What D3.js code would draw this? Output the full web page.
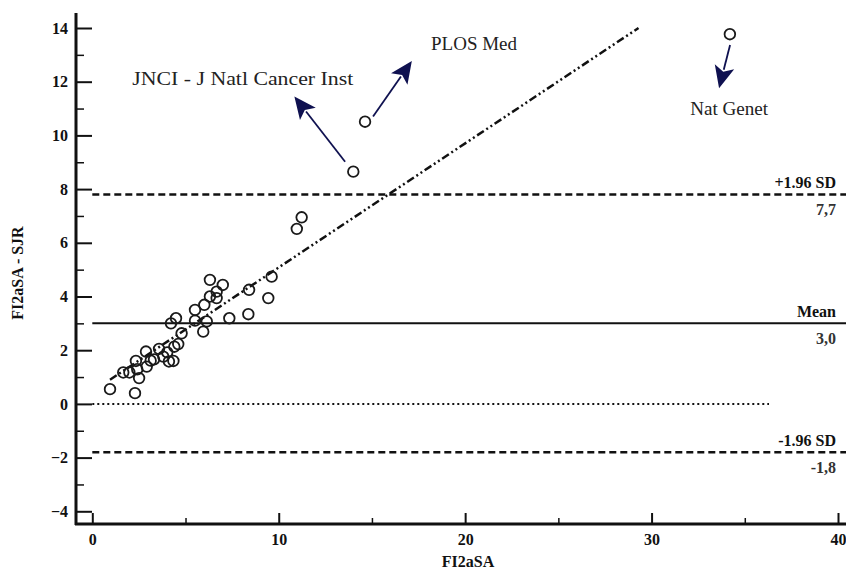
<!DOCTYPE html>
<html>
<head>
<meta charset="utf-8">
<script src="https://cdn.jsdelivr.net/npm/d3@7"></script>
<style>
  body { margin: 0; background: #fff; }
  svg { display: block; }
  text { font-family: "Liberation Serif", "DejaVu Serif", "Times New Roman", serif; }
</style>
</head>
<body>
<script>
// FI2aSA (x) vs difference FI2aSA - SJR (y)
const fi2aSA = [0.95, 2.29, 2.51, 1.66, 1.99, 2.41, 2.34, 2.88, 2.92, 3.13,
  3.31, 3.58, 3.81, 4.02, 4.11, 4.35, 4.40, 4.61, 4.79, 4.22,
  4.49, 5.51, 5.51, 5.95, 6.14, 6.01, 6.31, 6.67, 6.67, 7.00,
  6.31, 7.35, 8.37, 8.41, 9.44, 9.62, 10.97, 11.23, 14.0, 14.63, 34.2];
const diffSJR = [0.55, 0.40, 0.96, 1.17, 1.17, 1.29, 1.60, 1.95, 1.39, 1.61,
  1.66, 2.05, 1.76, 1.92, 1.58, 1.60, 2.13, 2.23, 2.63, 3.00,
  3.19, 3.10, 3.50, 2.69, 3.07, 3.69, 4.00, 3.94, 4.18, 4.43,
  4.62, 3.19, 3.34, 4.25, 3.94, 4.74, 6.52, 6.95, 8.65, 10.51, 13.77];

// regression line end points
const regX = [0.95, 29.3];
const regY = [0.9, 14.0];

// reference lines
const refNames = ["+1.96 SD", "Mean", "-1.96 SD"];
const refValues = [7.8, 3.0, -1.8];
const refLabels = ["7,7", "3,0", "-1,8"];
const zeroLine = [0, 36.3];

const xTicks = [0, 10, 20, 30, 40];
const xMinor = [5, 15, 25, 35];
const yTicks = [-4, -2, 0, 2, 4, 6, 8, 10, 12, 14];
const yMinor = [-3, -1, 1, 3, 5, 7, 9, 11, 13];

// labelled journals: point -> arrow tip, label spot (data units)
const journals = ["JNCI - J Natl Cancer Inst", "PLOS Med", "Nat Genet"];
const arrowFrom = [[13.56, 9.02], [15.06, 10.70], [34.21, 13.37]];
const arrowTo = [[10.84, 11.45], [17.14, 12.77], [33.62, 11.76]];
const labelAt = [[14.0, 11.88], [18.17, 13.18], [34.16, 10.76]];
const labelAnchor = ["end", "start", "middle"];
const labelWidth = [221, 86, 78];

const width = 846, height = 573;
const ink = "#111";
const serif = "'Liberation Serif', 'DejaVu Serif', 'Times New Roman', serif";

const svg = d3.select("body").append("svg")
  .attr("width", width)
  .attr("height", height)
  .attr("font-family", serif);

let x = d3.scaleLinear().domain([0, 40]).range([92.3, 838]);
let y = d3.scaleLinear().domain([-4, 14]).range([511.3, 28]);

const axisX = 76, axisY = 524;

// Y axis
svg.append("g")
  .attr("transform", "translate(" + axisX + ",0)")
  .call(d3.axisLeft(y).tickValues(yTicks).tickSizeInner(-16).tickSizeOuter(0).tickPadding(8))
  .attr("font-family", serif)
  .call(g => g.select(".domain").remove())
  .call(g => g.selectAll("line").attr("stroke", ink).attr("stroke-width", 2))
  .call(g => g.selectAll("text").attr("fill", ink).attr("font-size", 16)
    .attr("font-weight", "bold"));

svg.append("g")
  .attr("transform", "translate(" + axisX + ",0)")
  .call(d3.axisLeft(y).tickValues(yMinor).tickSizeInner(-8).tickSizeOuter(0).tickFormat(""))
  .call(g => g.select(".domain").remove())
  .call(g => g.selectAll("line").attr("stroke", ink).attr("stroke-width", 1.5));

// X axis
svg.append("g")
  .attr("transform", "translate(0," + axisY + ")")
  .call(d3.axisBottom(x).tickValues(xTicks).tickSizeInner(-11).tickSizeOuter(0).tickPadding(10))
  .attr("font-family", serif)
  .call(g => g.select(".domain").remove())
  .call(g => g.selectAll("line").attr("stroke", ink).attr("stroke-width", 2))
  .call(g => g.selectAll("text").attr("fill", ink).attr("font-size", 16)
    .attr("font-weight", "bold"));

svg.append("g")
  .attr("transform", "translate(0," + axisY + ")")
  .call(d3.axisBottom(x).tickValues(xMinor).tickSizeInner(-6).tickSizeOuter(0).tickFormat(""))
  .call(g => g.select(".domain").remove())
  .call(g => g.selectAll("line").attr("stroke", ink).attr("stroke-width", 1.5));

// axis lines
svg.append("line").attr("x1", axisX).attr("x2", axisX).attr("y1", 13).attr("y2", axisY + 1)
  .attr("stroke", ink).attr("stroke-width", 3);
svg.append("line").attr("x1", axisX - 1).attr("x2", width).attr("y1", axisY).attr("y2", axisY)
  .attr("stroke", ink).attr("stroke-width", 3);

// axis titles
svg.append("text")
  .attr("transform", "translate(23,273) rotate(-90)")
  .attr("text-anchor", "middle")
  .attr("font-size", 16).attr("font-weight", "bold").attr("fill", ink)
  .text("FI2aSA - SJR");

svg.append("text")
  .attr("x", 468).attr("y", 567)
  .attr("text-anchor", "middle")
  .attr("font-size", 16).attr("font-weight", "bold").attr("fill", ink)
  .text("FI2aSA");

// zero line (dotted)
svg.append("line")
  .attr("x1", x(zeroLine[0])).attr("x2", x(zeroLine[1]))
  .attr("y1", y(0)).attr("y2", y(0))
  .attr("stroke", ink).attr("stroke-width", 2).attr("stroke-dasharray", "2,3");

// mean and limits of agreement
refValues.forEach((v, i) => {
  svg.append("line")
    .attr("x1", x(0)).attr("x2", width)
    .attr("y1", y(v)).attr("y2", y(v))
    .attr("stroke", ink)
    .attr("stroke-width", i === 1 ? 2 : 2.5)
    .attr("stroke-dasharray", i === 1 ? null : "7,4");
  svg.append("text")
    .attr("x", 836).attr("y", y(v) - 6)
    .attr("text-anchor", "end")
    .attr("font-size", 16).attr("font-weight", "bold").attr("fill", ink)
    .text(refNames[i]);
  svg.append("text")
    .attr("x", 836).attr("y", y(v) + 21)
    .attr("text-anchor", "end")
    .attr("font-size", 16).attr("font-weight", "bold").attr("fill", "#333")
    .text(refLabels[i]);
});

// regression line
svg.append("path")
  .datum(regX.map((d, i) => [d, regY[i]]))
  .attr("d", d3.line().x(d => x(d[0])).y(d => y(d[1])))
  .attr("fill", "none")
  .attr("stroke", ink)
  .attr("stroke-width", 2.5)
  .attr("stroke-dasharray", "8,3,2,3,2,3");

// points
svg.selectAll(".pt")
  .data(fi2aSA.map((d, i) => [d, diffSJR[i]]))
  .enter()
  .append("circle")
  .attr("class", "pt")
  .attr("cx", d => x(d[0]))
  .attr("cy", d => y(d[1]))
  .attr("r", 5.3)
  .attr("fill", "none")
  .attr("stroke", "#1a1a1a")
  .attr("stroke-width", 1.8);

// arrows + journal labels
const navy = "#0f1150";
journals.forEach((name, i) => {
  let x0 = x(arrowFrom[i][0]), y0 = y(arrowFrom[i][1]);
  let x1 = x(arrowTo[i][0]), y1 = y(arrowTo[i][1]);
  let len = Math.hypot(x1 - x0, y1 - y0);
  let ux = (x1 - x0) / len, uy = (y1 - y0) / len;
  let headLen = 22, headW = 10;
  let bx = x1 - ux * headLen, by = y1 - uy * headLen;
  svg.append("line")
    .attr("x1", x0).attr("y1", y0).attr("x2", bx + ux * 3).attr("y2", by + uy * 3)
    .attr("stroke", navy).attr("stroke-width", 1.8);
  svg.append("path")
    .attr("d", "M" + x1 + "," + y1 +
      "L" + (bx - uy * headW) + "," + (by + ux * headW) +
      "L" + (bx + ux * 5) + "," + (by + uy * 5) +
      "L" + (bx + uy * headW) + "," + (by - ux * headW) + "Z")
    .attr("fill", navy);
  svg.append("text")
    .attr("x", x(labelAt[i][0])).attr("y", y(labelAt[i][1]))
    .attr("text-anchor", labelAnchor[i])
    .attr("font-size", 19).attr("fill", "#222")
    .attr("textLength", labelWidth[i])
    .attr("lengthAdjust", "spacingAndGlyphs")
    .text(name);
});
</script>
</body>
</html>
